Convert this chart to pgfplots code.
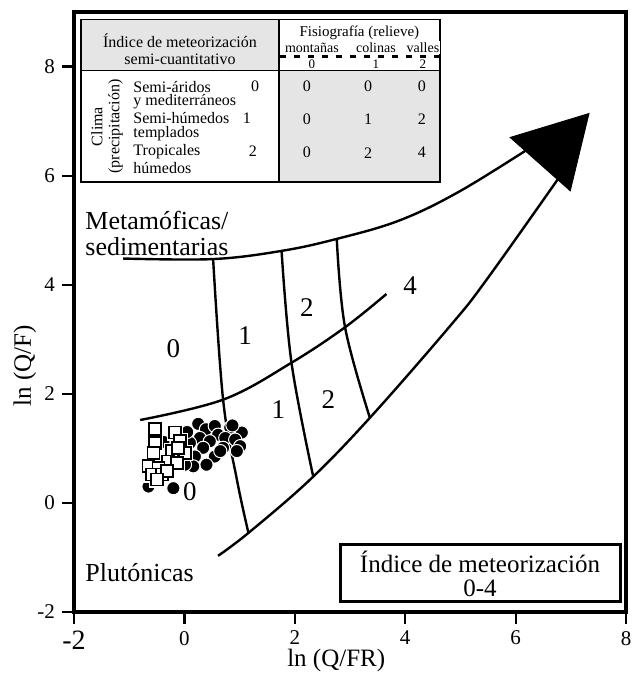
\documentclass[border=0pt]{standalone}
\usepackage{fontspec}
\setmainfont{Liberation Serif}
\usepackage{pgfplots}
\pgfplotsset{compat=1.18}
\definecolor{tgray}{gray}{0.90}

\begin{document}
\begin{tikzpicture}
\begin{axis}[
  name=ax,
  scale only axis,
  width=276pt, height=300pt,
  xmin=-2, xmax=8, ymin=-2, ymax=9,
  xtick={-2,0,2,4,6,8}, ytick={-2,0,2,4,6,8},
  xticklabels={{\raisebox{-5pt}{\fontsize{14}{14}\selectfont -2}},0,2,4,6,8},
  yticklabels={-2,0,2,4,6,8},
  xtick pos=bottom, ytick pos=left,
  tick align=outside,
  major tick length=6pt,
  tick style={line width=1.1pt, black},
  axis line style={line width=1.6pt},
  tick label style={font=\fontsize{10.5}{12}\selectfont},
  xlabel={ln (Q/FR)}, ylabel={ln (Q/F)},
  label style={font=\fontsize{12.5}{14}\selectfont},
  xlabel style={at={(axis description cs:0.475,0)}, yshift=-24pt, anchor=center},
  ylabel style={at={(axis description cs:-0.089,0.41)}, anchor=center},
  clip=false,
]
% field boundaries
\addplot[black, line width=1.2pt, smooth, tension=0.6] coordinates {(-1.11,4.48) (0.52,4.47) (1.76,4.62) (2.76,4.84) (3.90,5.18) (5.00,5.72) (6.40,6.60)};
\addplot[black, line width=1.2pt, smooth, tension=0.6] coordinates {(0.61,-0.97) (1.16,-0.55) (2.28,0.43) (3.36,1.56) (4.81,3.24) (5.48,4.10) (6.95,6.20)};
\addplot[black, line width=1.2pt, smooth, tension=0.6] coordinates {(-0.80,1.52) (0.72,1.90) (1.94,2.57) (2.91,3.22) (3.66,3.83)};
\addplot[black, line width=1.2pt, smooth, tension=0.6] coordinates {(0.52,4.47) (0.70,1.90) (0.95,0.43) (1.16,-0.55)};
\addplot[black, line width=1.2pt, smooth, tension=0.6] coordinates {(1.76,4.62) (1.94,2.57) (2.33,0.50)};
\addplot[black, line width=1.2pt, smooth, tension=0.6] coordinates {(2.76,4.84) (2.91,3.22) (3.36,1.56)};
\addplot[draw=black, fill=black] coordinates {(5.90,6.70) (7.33,7.14) (6.99,5.72)} -- cycle;

% samples
\addplot[only marks, mark=*, mark size=3.3pt, mark options={fill=black, draw=white, line width=0.5pt}] coordinates {
(0.25,1.45) (0.39,1.35) (0.55,1.41) (0.61,1.25) (0.83,1.38) (1.04,1.29) (0.28,1.19)
(0.46,1.13) (0.74,1.19) (0.92,1.16) (1.01,1.04) (0.34,1.01) (0.55,0.85) (0.19,0.85)
(0.40,0.70) (0.16,0.67) (0.01,0.70) (-0.65,0.30) (-0.20,0.27) (0.10,1.10) (0.70,1.01)
(-0.62,0.62) (-0.38,1.12) (-0.25,0.85) (0.05,1.30) (0.87,1.42) (0.65,0.95) (0.95,0.95)};
\addplot[only marks, mark=square*, mark size=3pt, mark options={fill=white, draw=white, line width=2.2pt}] coordinates {
(-0.53,1.35) (-0.17,1.29) (-0.53,1.10) (-0.08,1.13) (-0.56,0.92) (-0.23,0.95) (0.01,0.92)
(-0.29,0.76) (-0.14,0.73) (-0.65,0.67) (-0.47,0.64) (-0.59,0.52) (-0.41,0.52) (-0.32,0.58)
(-0.50,0.43) (-0.12,1.00)};
\addplot[only marks, mark=square*, mark size=3pt, mark options={fill=white, draw=black, line width=0.9pt}] coordinates {
(-0.53,1.35) (-0.17,1.29) (-0.53,1.10) (-0.08,1.13) (-0.56,0.92) (-0.23,0.95) (0.01,0.92)
(-0.29,0.76) (-0.14,0.73) (-0.65,0.67) (-0.47,0.64) (-0.59,0.52) (-0.41,0.52) (-0.32,0.58)
(-0.50,0.43) (-0.12,1.00)};

% field labels
\begin{scope}[font=\fontsize{13}{13}\selectfont, inner sep=0pt]
\node[anchor=west, align=left] at (-1.80,4.94) {Metamóficas/\\sedimentarias};
\node[anchor=west] at (-1.80,-1.27) {Plutónicas};
\end{scope}
\begin{scope}[font=\fontsize{13.5}{13.5}\selectfont]
\node at (-0.20,2.82) {0};
\node at (1.10,3.06) {1};
\node at (2.22,3.58) {2};
\node at (4.09,3.98) {4};
\node at (1.70,1.71) {1};
\node at (2.61,1.90) {2};
\node at (0.10,0.20) {0};
\end{scope}

% index box
\draw[line width=1.5pt, fill=white] (2.819,-0.768) rectangle (7.891,-1.816);
\node[align=center, font=\fontsize{12.5}{12}\selectfont] at (5.355,-1.30) {Índice de meteorización\\0-4};

% table
\fill[tgray] (-1.873,8.864) rectangle (1.714,7.926);
\fill[tgray] (1.714,7.926) rectangle (4.630,5.886);
\draw[line width=0.9pt] (-1.873,8.864) rectangle (4.630,5.886);
\draw[line width=0.9pt] (-1.873,7.926) -- (4.630,7.926);
\draw[line width=0.9pt] (1.714,8.864) -- (1.714,5.886);
\draw[line width=1.1pt, dash pattern=on 3pt off 4pt] (1.74,8.184) -- (4.63,8.184);
\node[align=center, font=\fontsize{8}{8.5}\selectfont] at (-0.08,8.31) {Índice de meteorización\\semi-cuantitativo};
\node[font=\fontsize{7.5}{9}\selectfont] at (3.17,8.62) {Fisiografía (relieve)};
\begin{scope}[font=\fontsize{7}{8}\selectfont, fill=white, inner sep=0.6pt]
\node[fill=white] at (2.31,8.35) {montañas};
\node[fill=white] at (3.47,8.35) {colinas};
\node[fill=white] at (4.32,8.35) {valles};
\node[font=\fontsize{6.5}{7}\selectfont] at (2.31,8.04) {0};
\node[font=\fontsize{6.5}{7}\selectfont] at (3.47,8.04) {1};
\node[font=\fontsize{6.5}{7}\selectfont] at (4.32,8.04) {2};
\end{scope}
\node[rotate=90, align=center, font=\fontsize{8}{8.5}\selectfont] at (-1.40,6.90) {Clima\\(precipitación)};
\begin{scope}[font=\fontsize{8}{9}\selectfont, inner sep=0pt]
\node[anchor=west] at (-0.93,7.63) {Semi-áridos};
\node[anchor=west] at (-0.93,7.36) {y mediterráneos};
\node[anchor=west] at (-0.93,7.06) {Semi-húmedos};
\node[anchor=west] at (-0.93,6.77) {templados};
\node[anchor=west] at (-0.93,6.44) {Tropicales};
\node[anchor=west] at (-0.93,6.14) {húmedos};
\node at (1.28,7.63) {0};
\node at (1.13,7.06) {1};
\node at (1.24,6.44) {2};
\node at (2.22,7.63) {0};
\node at (3.33,7.63) {0};
\node at (4.30,7.63) {0};
\node at (2.22,7.04) {0};
\node at (3.33,7.04) {1};
\node at (4.30,7.04) {2};
\node at (2.22,6.42) {0};
\node at (3.33,6.42) {2};
\node at (4.30,6.42) {4};
\end{scope}
\end{axis}
\pgfresetboundingbox
\path ([xshift=-37pt,yshift=-36pt]ax.south west) rectangle ([xshift=8pt,yshift=6pt]ax.north east);
\end{tikzpicture}
\end{document}
